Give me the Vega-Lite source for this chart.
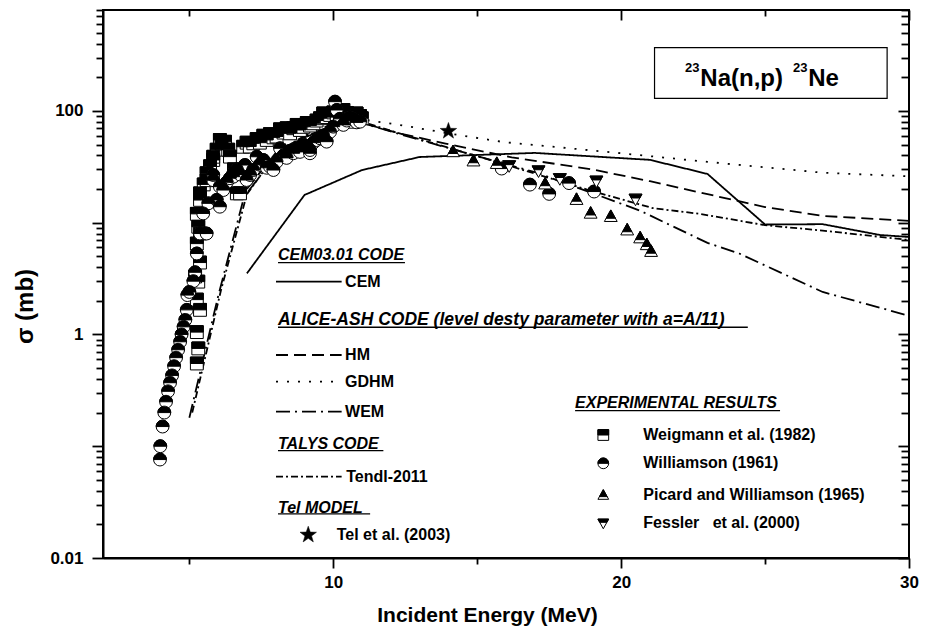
{
  "$schema": "https://vega.github.io/schema/vega-lite/v6.json",
  "width": 806,
  "height": 548,
  "autosize": "none",
  "padding": {"left": 103, "top": 10, "right": 24, "bottom": 69},
  "background": "white",
  "config": {
    "view": {"stroke": "black", "strokeWidth": 2},
    "axis": {"domainColor": "black", "domainWidth": 2, "tickColor": "black", "tickWidth": 1.8, "labelFont": "Liberation Sans", "labelFontWeight": "bold", "labelFontSize": 17, "labelColor": "black", "titleFont": "Liberation Sans", "titleFontWeight": "bold", "titleColor": "black", "grid": false}
  },
  "datasets": {
    "models": [
      {"series": "CEM", "E": 7, "s": 3.52}, {"series": "CEM", "E": 9, "s": 17.7}, {"series": "CEM", "E": 11, "s": 29.6}, {"series": "CEM", "E": 13, "s": 38.7}, {"series": "CEM", "E": 17, "s": 42.1}, {"series": "CEM", "E": 21, "s": 36.5}, {"series": "CEM", "E": 23, "s": 27.3}, {"series": "CEM", "E": 25, "s": 9.63}, {"series": "CEM", "E": 27, "s": 9.7}, {"series": "CEM", "E": 29, "s": 7.76}, {"series": "CEM", "E": 30, "s": 7.45},
      {"series": "HM", "E": 7, "s": 20}, {"series": "HM", "E": 8, "s": 42}, {"series": "HM", "E": 9, "s": 60}, {"series": "HM", "E": 10, "s": 74}, {"series": "HM", "E": 11, "s": 78}, {"series": "HM", "E": 12.3, "s": 63}, {"series": "HM", "E": 13.9, "s": 51}, {"series": "HM", "E": 16.2, "s": 38.4}, {"series": "HM", "E": 19, "s": 30}, {"series": "HM", "E": 21, "s": 23.5}, {"series": "HM", "E": 23, "s": 18}, {"series": "HM", "E": 25, "s": 13.8}, {"series": "HM", "E": 27, "s": 11.5}, {"series": "HM", "E": 30, "s": 10.4},
      {"series": "GDHM", "E": 7, "s": 22}, {"series": "GDHM", "E": 8, "s": 45}, {"series": "GDHM", "E": 9, "s": 62}, {"series": "GDHM", "E": 10, "s": 76}, {"series": "GDHM", "E": 11, "s": 84}, {"series": "GDHM", "E": 12.3, "s": 75}, {"series": "GDHM", "E": 14, "s": 63}, {"series": "GDHM", "E": 15.9, "s": 52.7}, {"series": "GDHM", "E": 19.4, "s": 43.3}, {"series": "GDHM", "E": 23, "s": 35}, {"series": "GDHM", "E": 27, "s": 28}, {"series": "GDHM", "E": 30, "s": 26},
      {"series": "WEM", "E": 5.0, "s": 0.18}, {"series": "WEM", "E": 6.0, "s": 2.2}, {"series": "WEM", "E": 6.9, "s": 17}, {"series": "WEM", "E": 8, "s": 40}, {"series": "WEM", "E": 9, "s": 58}, {"series": "WEM", "E": 10, "s": 72}, {"series": "WEM", "E": 11, "s": 78}, {"series": "WEM", "E": 12.3, "s": 62}, {"series": "WEM", "E": 14.1, "s": 45.8}, {"series": "WEM", "E": 17.07, "s": 28}, {"series": "WEM", "E": 20.63, "s": 12.9}, {"series": "WEM", "E": 23, "s": 6.6}, {"series": "WEM", "E": 24.1, "s": 5.3}, {"series": "WEM", "E": 27, "s": 2.4}, {"series": "WEM", "E": 30, "s": 1.47},
      {"series": "Tendl", "E": 5.1, "s": 0.2}, {"series": "Tendl", "E": 6.1, "s": 2.5}, {"series": "Tendl", "E": 7.0, "s": 18}, {"series": "Tendl", "E": 8, "s": 41}, {"series": "Tendl", "E": 9, "s": 59}, {"series": "Tendl", "E": 10, "s": 73}, {"series": "Tendl", "E": 11, "s": 80}, {"series": "Tendl", "E": 12.3, "s": 63}, {"series": "Tendl", "E": 14.1, "s": 46}, {"series": "Tendl", "E": 16, "s": 33}, {"series": "Tendl", "E": 18.84, "s": 19.7}, {"series": "Tendl", "E": 21.1, "s": 13.5}, {"series": "Tendl", "E": 22.74, "s": 12.0}, {"series": "Tendl", "E": 25, "s": 9.5}, {"series": "Tendl", "E": 27, "s": 8.5}, {"series": "Tendl", "E": 30, "s": 7.0}
    ],
    "legendLines": [
      {"series": "CEM", "E": 8.01, "E2": 10.29, "s": 2.97},
      {"series": "HM", "E": 8.01, "E2": 10.29, "s": 0.655},
      {"series": "GDHM", "E": 8.01, "E2": 10.29, "s": 0.378},
      {"series": "WEM", "E": 8.01, "E2": 10.29, "s": 0.204},
      {"series": "Tendl", "E": 8.01, "E2": 10.29, "s": 0.0534}
    ],
    "underlines": [
      {"E": 8.08, "E2": 12.49, "s": 4.39},
      {"E": 8.08, "E2": 24.4, "s": 1.16},
      {"E": 8.08, "E2": 11.74, "s": 0.0912},
      {"E": 8.08, "E2": 11.28, "s": 0.0248},
      {"E": 18.4, "E2": 25.52, "s": 0.208}
    ],
    "headings": [
      {"E": 8.08, "s": 5.09, "label": "CEM03.01 CODE"},
      {"E": 8.08, "s": 0.1047, "label": "TALYS CODE"},
      {"E": 8.08, "s": 0.0279, "label": "Tel MODEL"},
      {"E": 18.4, "s": 0.242, "label": "EXPERIMENTAL RESULTS"}
    ],
    "headingWide": [
      {"E": 8.08, "s": 1.347, "label": "ALICE-ASH CODE (level desty parameter with a=A/11)"}
    ],
    "items": [
      {"E": 10.41, "s": 2.97, "label": "CEM"},
      {"E": 10.41, "s": 0.655, "label": "HM"},
      {"E": 10.41, "s": 0.378, "label": "GDHM"},
      {"E": 10.41, "s": 0.204, "label": "WEM"},
      {"E": 10.45, "s": 0.0534, "label": "Tendl-2011"},
      {"E": 10.12, "s": 0.0161, "label": "Tel et al. (2003)"},
      {"E": 20.77, "s": 0.126, "label": "Weigmann et al. (1982)"},
      {"E": 20.77, "s": 0.0703, "label": "Williamson (1961)"},
      {"E": 20.77, "s": 0.0366, "label": "Picard and Williamson (1965)"},
      {"E": 20.77, "s": 0.0204, "label": "Fessler\u00a0\u00a0\u00a0et al. (2000)"}
    ],
    "box": [{"E": 21.16, "E2": 29.24, "s": 368, "s2": 129.7}],
    "titleMain": [{"E": 22.75, "s": 167, "label": "Na(n,p)"}, {"E": 26.5, "s": 167, "label": "Ne"}],
    "titleSup": [{"E": 22.22, "s": 224, "label": "23"}, {"E": 25.97, "s": 224, "label": "23"}],
    "tel": [{"role": "data", "E": 14.0, "s": 66}, {"role": "legend", "E": 9.13, "s": 0.0161}],
    "exp": [
      {"series": "Weigmann", "role": "legend", "E": 19.38, "s": 0.126},
      {"series": "Williamson", "role": "legend", "E": 19.38, "s": 0.0703},
      {"series": "Picard", "role": "legend", "E": 19.38, "s": 0.0366},
      {"series": "Fessler", "role": "legend", "E": 19.38, "s": 0.0204},
      {"series": "Weigmann", "role": "data", "E": 5.26, "s": 0.55}, {"series": "Weigmann", "role": "data", "E": 5.31, "s": 0.75}, {"series": "Weigmann", "role": "data", "E": 5.26, "s": 1.05}, {"series": "Weigmann", "role": "data", "E": 5.37, "s": 1.66}, {"series": "Weigmann", "role": "data", "E": 5.26, "s": 2.05}, {"series": "Weigmann", "role": "data", "E": 5.31, "s": 2.97}, {"series": "Weigmann", "role": "data", "E": 5.2, "s": 3.3}, {"series": "Weigmann", "role": "data", "E": 5.37, "s": 4.4}, {"series": "Weigmann", "role": "data", "E": 5.26, "s": 6.5}, {"series": "Weigmann", "role": "data", "E": 5.37, "s": 8.0}, {"series": "Weigmann", "role": "data", "E": 5.31, "s": 9.2}, {"series": "Weigmann", "role": "data", "E": 5.26, "s": 12}, {"series": "Weigmann", "role": "data", "E": 5.37, "s": 16}, {"series": "Weigmann", "role": "data", "E": 5.37, "s": 18.3}, {"series": "Weigmann", "role": "data", "E": 5.5, "s": 22}, {"series": "Weigmann", "role": "data", "E": 5.6, "s": 24}, {"series": "Weigmann", "role": "data", "E": 5.6, "s": 27.7}, {"series": "Weigmann", "role": "data", "E": 5.72, "s": 32}, {"series": "Weigmann", "role": "data", "E": 5.83, "s": 36.4}, {"series": "Weigmann", "role": "data", "E": 5.83, "s": 38.9}, {"series": "Weigmann", "role": "data", "E": 5.95, "s": 45}, {"series": "Weigmann", "role": "data", "E": 6.06, "s": 55}, {"series": "Weigmann", "role": "data", "E": 6.12, "s": 51}, {"series": "Weigmann", "role": "data", "E": 6.24, "s": 53}, {"series": "Weigmann", "role": "data", "E": 6.35, "s": 45}, {"series": "Weigmann", "role": "data", "E": 6.41, "s": 39}, {"series": "Weigmann", "role": "data", "E": 6.55, "s": 30}, {"series": "Weigmann", "role": "data", "E": 6.65, "s": 18.3}, {"series": "Weigmann", "role": "data", "E": 6.76, "s": 18.3}, {"series": "Weigmann", "role": "data", "E": 6.87, "s": 47.8}, {"series": "Weigmann", "role": "data", "E": 6.99, "s": 52}, {"series": "Weigmann", "role": "data", "E": 7.1, "s": 48}, {"series": "Weigmann", "role": "data", "E": 7.22, "s": 51.3}, {"series": "Weigmann", "role": "data", "E": 7.34, "s": 56}, {"series": "Weigmann", "role": "data", "E": 7.45, "s": 52}, {"series": "Weigmann", "role": "data", "E": 7.57, "s": 60}, {"series": "Weigmann", "role": "data", "E": 7.69, "s": 55}, {"series": "Weigmann", "role": "data", "E": 7.8, "s": 62}, {"series": "Weigmann", "role": "data", "E": 7.92, "s": 58}, {"series": "Weigmann", "role": "data", "E": 8.03, "s": 59}, {"series": "Weigmann", "role": "data", "E": 8.15, "s": 68.5}, {"series": "Weigmann", "role": "data", "E": 8.27, "s": 64}, {"series": "Weigmann", "role": "data", "E": 8.38, "s": 70}, {"series": "Weigmann", "role": "data", "E": 8.5, "s": 63}, {"series": "Weigmann", "role": "data", "E": 8.61, "s": 70}, {"series": "Weigmann", "role": "data", "E": 8.73, "s": 75}, {"series": "Weigmann", "role": "data", "E": 8.84, "s": 67.5}, {"series": "Weigmann", "role": "data", "E": 8.96, "s": 72}, {"series": "Weigmann", "role": "data", "E": 9.08, "s": 78}, {"series": "Weigmann", "role": "data", "E": 9.19, "s": 74}, {"series": "Weigmann", "role": "data", "E": 9.31, "s": 77.5}, {"series": "Weigmann", "role": "data", "E": 9.42, "s": 82}, {"series": "Weigmann", "role": "data", "E": 9.54, "s": 86}, {"series": "Weigmann", "role": "data", "E": 9.65, "s": 95}, {"series": "Weigmann", "role": "data", "E": 9.77, "s": 88}, {"series": "Weigmann", "role": "data", "E": 9.89, "s": 92}, {"series": "Weigmann", "role": "data", "E": 10.0, "s": 97}, {"series": "Weigmann", "role": "data", "E": 10.12, "s": 93}, {"series": "Weigmann", "role": "data", "E": 10.23, "s": 99}, {"series": "Weigmann", "role": "data", "E": 10.35, "s": 102}, {"series": "Weigmann", "role": "data", "E": 10.47, "s": 96}, {"series": "Weigmann", "role": "data", "E": 10.58, "s": 94}, {"series": "Weigmann", "role": "data", "E": 10.69, "s": 80}, {"series": "Weigmann", "role": "data", "E": 10.81, "s": 95}, {"series": "Weigmann", "role": "data", "E": 10.93, "s": 90}, {"series": "Weigmann", "role": "data", "E": 10.99, "s": 86},
      {"series": "Williamson", "role": "data", "E": 3.98, "s": 0.076}, {"series": "Williamson", "role": "data", "E": 3.99, "s": 0.1}, {"series": "Williamson", "role": "data", "E": 4.07, "s": 0.15}, {"series": "Williamson", "role": "data", "E": 4.13, "s": 0.2}, {"series": "Williamson", "role": "data", "E": 4.19, "s": 0.25}, {"series": "Williamson", "role": "data", "E": 4.26, "s": 0.31}, {"series": "Williamson", "role": "data", "E": 4.33, "s": 0.37}, {"series": "Williamson", "role": "data", "E": 4.4, "s": 0.43}, {"series": "Williamson", "role": "data", "E": 4.47, "s": 0.52}, {"series": "Williamson", "role": "data", "E": 4.54, "s": 0.62}, {"series": "Williamson", "role": "data", "E": 4.61, "s": 0.73}, {"series": "Williamson", "role": "data", "E": 4.68, "s": 0.86}, {"series": "Williamson", "role": "data", "E": 4.73, "s": 1.0}, {"series": "Williamson", "role": "data", "E": 4.8, "s": 1.17}, {"series": "Williamson", "role": "data", "E": 4.86, "s": 1.35}, {"series": "Williamson", "role": "data", "E": 4.91, "s": 1.66}, {"series": "Williamson", "role": "data", "E": 4.93, "s": 2.25}, {"series": "Williamson", "role": "data", "E": 5.0, "s": 2.4}, {"series": "Williamson", "role": "data", "E": 5.14, "s": 3.0}, {"series": "Williamson", "role": "data", "E": 5.2, "s": 3.6}, {"series": "Williamson", "role": "data", "E": 5.26, "s": 5.3}, {"series": "Williamson", "role": "data", "E": 5.37, "s": 8.0}, {"series": "Williamson", "role": "data", "E": 5.48, "s": 12.1}, {"series": "Williamson", "role": "data", "E": 5.6, "s": 8.0}, {"series": "Williamson", "role": "data", "E": 5.66, "s": 14.9}, {"series": "Williamson", "role": "data", "E": 5.83, "s": 24}, {"series": "Williamson", "role": "data", "E": 5.83, "s": 26.7}, {"series": "Williamson", "role": "data", "E": 5.95, "s": 16}, {"series": "Williamson", "role": "data", "E": 6.06, "s": 21}, {"series": "Williamson", "role": "data", "E": 6.06, "s": 13.9}, {"series": "Williamson", "role": "data", "E": 6.18, "s": 19.6}, {"series": "Williamson", "role": "data", "E": 6.3, "s": 23}, {"series": "Williamson", "role": "data", "E": 6.41, "s": 25}, {"series": "Williamson", "role": "data", "E": 6.53, "s": 27.7}, {"series": "Williamson", "role": "data", "E": 6.53, "s": 25.8}, {"series": "Williamson", "role": "data", "E": 6.65, "s": 30}, {"series": "Williamson", "role": "data", "E": 6.76, "s": 27}, {"series": "Williamson", "role": "data", "E": 6.93, "s": 32.8}, {"series": "Williamson", "role": "data", "E": 6.99, "s": 24.1}, {"series": "Williamson", "role": "data", "E": 7.11, "s": 26.7}, {"series": "Williamson", "role": "data", "E": 7.22, "s": 29.6}, {"series": "Williamson", "role": "data", "E": 7.34, "s": 38.9}, {"series": "Williamson", "role": "data", "E": 7.45, "s": 33}, {"series": "Williamson", "role": "data", "E": 7.57, "s": 36.4}, {"series": "Williamson", "role": "data", "E": 7.69, "s": 31}, {"series": "Williamson", "role": "data", "E": 7.8, "s": 31.7}, {"series": "Williamson", "role": "data", "E": 7.92, "s": 29.6}, {"series": "Williamson", "role": "data", "E": 8.03, "s": 35}, {"series": "Williamson", "role": "data", "E": 8.15, "s": 46.3}, {"series": "Williamson", "role": "data", "E": 8.27, "s": 40}, {"series": "Williamson", "role": "data", "E": 8.38, "s": 38}, {"series": "Williamson", "role": "data", "E": 8.5, "s": 44}, {"series": "Williamson", "role": "data", "E": 8.61, "s": 41.8}, {"series": "Williamson", "role": "data", "E": 8.73, "s": 47}, {"series": "Williamson", "role": "data", "E": 8.84, "s": 43}, {"series": "Williamson", "role": "data", "E": 8.96, "s": 50}, {"series": "Williamson", "role": "data", "E": 9.08, "s": 48}, {"series": "Williamson", "role": "data", "E": 9.19, "s": 41.8}, {"series": "Williamson", "role": "data", "E": 9.19, "s": 44.7}, {"series": "Williamson", "role": "data", "E": 9.31, "s": 52}, {"series": "Williamson", "role": "data", "E": 9.42, "s": 54.9}, {"series": "Williamson", "role": "data", "E": 9.54, "s": 56.9}, {"series": "Williamson", "role": "data", "E": 9.65, "s": 60}, {"series": "Williamson", "role": "data", "E": 9.77, "s": 53.1}, {"series": "Williamson", "role": "data", "E": 9.89, "s": 65}, {"series": "Williamson", "role": "data", "E": 10.0, "s": 72.3}, {"series": "Williamson", "role": "data", "E": 10.06, "s": 121}, {"series": "Williamson", "role": "data", "E": 10.12, "s": 102}, {"series": "Williamson", "role": "data", "E": 10.23, "s": 85}, {"series": "Williamson", "role": "data", "E": 10.35, "s": 75}, {"series": "Williamson", "role": "data", "E": 10.47, "s": 82}, {"series": "Williamson", "role": "data", "E": 10.58, "s": 88}, {"series": "Williamson", "role": "data", "E": 10.7, "s": 84}, {"series": "Williamson", "role": "data", "E": 10.81, "s": 79}, {"series": "Williamson", "role": "data", "E": 10.93, "s": 80.1},
      {"series": "Williamson", "role": "data", "E": 15.85, "s": 30.5}, {"series": "Williamson", "role": "data", "E": 16.83, "s": 21.9}, {"series": "Williamson", "role": "data", "E": 17.5, "s": 18.1}, {"series": "Williamson", "role": "data", "E": 18.19, "s": 22.6}, {"series": "Williamson", "role": "data", "E": 19.06, "s": 19.0},
      {"series": "Picard", "role": "data", "E": 14.16, "s": 43.3}, {"series": "Picard", "role": "data", "E": 14.87, "s": 35.8}, {"series": "Picard", "role": "data", "E": 15.68, "s": 34.0}, {"series": "Picard", "role": "data", "E": 17.36, "s": 22.3}, {"series": "Picard", "role": "data", "E": 18.45, "s": 16.2}, {"series": "Picard", "role": "data", "E": 18.94, "s": 12.2}, {"series": "Picard", "role": "data", "E": 19.64, "s": 11.4}, {"series": "Picard", "role": "data", "E": 20.21, "s": 8.64}, {"series": "Picard", "role": "data", "E": 20.66, "s": 7.34}, {"series": "Picard", "role": "data", "E": 20.89, "s": 6.38}, {"series": "Picard", "role": "data", "E": 21.04, "s": 5.55},
      {"series": "Fessler", "role": "data", "E": 16.11, "s": 32.2}, {"series": "Fessler", "role": "data", "E": 17.13, "s": 29.0}, {"series": "Fessler", "role": "data", "E": 17.87, "s": 24.7}, {"series": "Fessler", "role": "data", "E": 19.14, "s": 23.5}, {"series": "Fessler", "role": "data", "E": 20.5, "s": 16.2}
    ]
  },
  "resolve": {"axis": {"x": "independent", "y": "independent"}},
  "layer": [
    {
      "data": {"name": "models"},
      "mark": {"type": "line", "color": "black", "strokeWidth": 1.8},
      "encoding": {
        "x": {"field": "E", "type": "quantitative", "scale": {"domain": [2, 30], "nice": false, "zero": false},
          "axis": {"orient": "bottom", "values": [5, 10, 15, 20, 25, 30], "labelExpr": "datum.value % 10 === 0 ? datum.label : ''", "labelFlush": false, "tickSize": {"condition": {"test": "datum.value % 10 === 0", "value": 10}, "value": 6}, "labelPadding": 6, "title": "Incident Energy (MeV)", "titleFontSize": 21, "titleX": 384, "titleY": 57, "titleBaseline": "middle", "titleAlign": "center"}},
        "y": {"field": "s", "type": "quantitative", "scale": {"type": "log", "domain": [0.01, 800], "nice": false},
          "axis": {"orient": "left", "values": [0.01, 0.02, 0.03, 0.04, 0.05, 0.06, 0.07, 0.08, 0.09, 0.1, 0.2, 0.3, 0.4, 0.5, 0.6, 0.7, 0.8, 0.9, 1, 2, 3, 4, 5, 6, 7, 8, 9, 10, 20, 30, 40, 50, 60, 70, 80, 90, 100, 200, 300, 400, 500, 600, 700, 800], "format": "~g", "labelExpr": "datum.value === 0.01 || datum.value === 1 || datum.value === 100 ? datum.label : ''", "tickSize": {"condition": {"test": "indexof([0.01, 0.1, 1, 10, 100], datum.value) >= 0", "value": 11}, "value": 7}, "labelPadding": 9, "title": "σ (mb)", "titleFontSize": 24, "titleX": -78, "titleY": 296, "titleBaseline": "middle", "titleAlign": "center", "titleAngle": 270}},
        "strokeDash": {"field": "series", "type": "nominal", "scale": {"domain": ["CEM", "HM", "GDHM", "WEM", "Tendl"], "range": [[1, 0], [12, 6], [2, 9], [14, 5, 2, 5], [7, 3, 2, 3]]}, "legend": null}
      }
    },
    {
      "data": {"name": "box"},
      "mark": {"type": "rect", "fill": "white", "stroke": "black", "strokeWidth": 1.2},
      "encoding": {
        "x": {"field": "E", "type": "quantitative", "scale": {"domain": [2, 30], "nice": false, "zero": false},
          "axis": {"orient": "top", "values": [10, 20, 30], "labels": false, "title": null, "domain": false, "offset": -10, "tickSize": 10}},
        "x2": {"field": "E2"},
        "y": {"field": "s", "type": "quantitative", "scale": {"type": "log", "domain": [0.01, 800], "nice": false},
          "axis": {"orient": "right", "values": [0.01, 0.1, 1, 10, 100], "labels": false, "title": null, "domain": false, "offset": -11, "tickSize": 11}},
        "y2": {"field": "s2"}
      }
    },
    {
      "data": {"name": "titleMain"},
      "mark": {"type": "text", "font": "Liberation Sans", "fontWeight": "bold", "fontSize": 24, "align": "left", "baseline": "alphabetic", "color": "black"},
      "encoding": {
        "x": {"field": "E", "type": "quantitative", "scale": {"domain": [2, 30], "nice": false, "zero": false},
          "axis": {"orient": "top", "values": [5, 15, 25], "labels": false, "title": null, "domain": false, "offset": -6, "tickSize": 6}},
        "y": {"field": "s", "type": "quantitative", "scale": {"type": "log", "domain": [0.01, 800], "nice": false},
          "axis": {"orient": "right", "values": [0.02, 0.03, 0.04, 0.05, 0.06, 0.07, 0.08, 0.09, 0.2, 0.3, 0.4, 0.5, 0.6, 0.7, 0.8, 0.9, 2, 3, 4, 5, 6, 7, 8, 9, 20, 30, 40, 50, 60, 70, 80, 90, 200, 300, 400, 500, 600, 700, 800], "labels": false, "title": null, "domain": false, "offset": -8, "tickSize": 8}},
        "text": {"field": "label"}
      }
    },
    {
      "data": {"name": "titleSup"},
      "mark": {"type": "text", "font": "Liberation Sans", "fontWeight": "bold", "fontSize": 13, "align": "left", "baseline": "alphabetic", "color": "black"},
      "encoding": {
        "x": {"field": "E", "type": "quantitative", "scale": {"domain": [2, 30], "nice": false, "zero": false}, "axis": null},
        "y": {"field": "s", "type": "quantitative", "scale": {"type": "log", "domain": [0.01, 800], "nice": false}, "axis": null},
        "text": {"field": "label"}
      }
    },
    {
      "data": {"name": "legendLines"},
      "mark": {"type": "rule", "color": "black", "strokeWidth": 1.8},
      "encoding": {
        "x": {"field": "E", "type": "quantitative", "scale": {"domain": [2, 30], "nice": false, "zero": false}, "axis": null},
        "x2": {"field": "E2"},
        "y": {"field": "s", "type": "quantitative", "scale": {"type": "log", "domain": [0.01, 800], "nice": false}, "axis": null},
        "strokeDash": {"field": "series", "type": "nominal", "legend": null}
      }
    },
    {
      "data": {"name": "underlines"},
      "mark": {"type": "rule", "color": "black", "strokeWidth": 1.3},
      "encoding": {
        "x": {"field": "E", "type": "quantitative", "scale": {"domain": [2, 30], "nice": false, "zero": false}, "axis": null},
        "x2": {"field": "E2"},
        "y": {"field": "s", "type": "quantitative", "scale": {"type": "log", "domain": [0.01, 800], "nice": false}, "axis": null}
      }
    },
    {
      "data": {"name": "headings"},
      "mark": {"type": "text", "font": "Liberation Sans", "fontWeight": "bold", "fontStyle": "italic", "fontSize": 16, "align": "left", "baseline": "middle", "color": "black"},
      "encoding": {
        "x": {"field": "E", "type": "quantitative", "scale": {"domain": [2, 30], "nice": false, "zero": false}, "axis": null},
        "y": {"field": "s", "type": "quantitative", "scale": {"type": "log", "domain": [0.01, 800], "nice": false}, "axis": null},
        "text": {"field": "label"}
      }
    },
    {
      "data": {"name": "headingWide"},
      "mark": {"type": "text", "font": "Liberation Sans", "fontWeight": "bold", "fontStyle": "italic", "fontSize": 17.5, "align": "left", "baseline": "middle", "color": "black"},
      "encoding": {
        "x": {"field": "E", "type": "quantitative", "scale": {"domain": [2, 30], "nice": false, "zero": false}, "axis": null},
        "y": {"field": "s", "type": "quantitative", "scale": {"type": "log", "domain": [0.01, 800], "nice": false}, "axis": null},
        "text": {"field": "label"}
      }
    },
    {
      "data": {"name": "items"},
      "mark": {"type": "text", "font": "Liberation Sans", "fontWeight": "bold", "fontSize": 16, "align": "left", "baseline": "middle", "color": "black"},
      "encoding": {
        "x": {"field": "E", "type": "quantitative", "scale": {"domain": [2, 30], "nice": false, "zero": false}, "axis": null},
        "y": {"field": "s", "type": "quantitative", "scale": {"type": "log", "domain": [0.01, 800], "nice": false}, "axis": null},
        "text": {"field": "label"}
      }
    },
    {
      "data": {"name": "exp"},
      "transform": [{"filter": "datum.series === 'Weigmann'"}],
      "mark": {"type": "point", "shape": "square", "filled": true, "fill": "white", "stroke": "black", "strokeWidth": 1, "opacity": 1},
      "encoding": {
        "x": {"field": "E", "type": "quantitative", "scale": {"domain": [2, 30], "nice": false, "zero": false}, "axis": null},
        "y": {"field": "s", "type": "quantitative", "scale": {"type": "log", "domain": [0.01, 800], "nice": false}, "axis": null},
        "size": {"field": "role", "type": "nominal", "scale": {"domain": ["data", "legend"], "range": [165, 115]}, "legend": null}
      }
    },
    {
      "data": {"name": "exp"},
      "transform": [{"filter": "datum.series === 'Weigmann'"}],
      "mark": {"type": "point", "shape": "M-1,-1L1,-1L1,0L-1,0Z", "filled": true, "fill": "black", "stroke": "black", "strokeWidth": 1, "opacity": 1},
      "encoding": {
        "x": {"field": "E", "type": "quantitative", "scale": {"domain": [2, 30], "nice": false, "zero": false}, "axis": null},
        "y": {"field": "s", "type": "quantitative", "scale": {"type": "log", "domain": [0.01, 800], "nice": false}, "axis": null},
        "size": {"field": "role", "type": "nominal", "legend": null}
      }
    },
    {
      "data": {"name": "exp"},
      "transform": [{"filter": "datum.series === 'Williamson'"}],
      "mark": {"type": "point", "shape": "circle", "filled": true, "fill": "white", "stroke": "black", "strokeWidth": 1, "opacity": 1},
      "encoding": {
        "x": {"field": "E", "type": "quantitative", "scale": {"domain": [2, 30], "nice": false, "zero": false}, "axis": null},
        "y": {"field": "s", "type": "quantitative", "scale": {"type": "log", "domain": [0.01, 800], "nice": false}, "axis": null},
        "size": {"field": "role", "type": "nominal", "legend": null}
      }
    },
    {
      "data": {"name": "exp"},
      "transform": [{"filter": "datum.series === 'Williamson'"}],
      "mark": {"type": "point", "shape": "M-1,0A1,1,0,0,1,1,0Z", "filled": true, "fill": "black", "stroke": "black", "strokeWidth": 1, "opacity": 1},
      "encoding": {
        "x": {"field": "E", "type": "quantitative", "scale": {"domain": [2, 30], "nice": false, "zero": false}, "axis": null},
        "y": {"field": "s", "type": "quantitative", "scale": {"type": "log", "domain": [0.01, 800], "nice": false}, "axis": null},
        "size": {"field": "role", "type": "nominal", "legend": null}
      }
    },
    {
      "data": {"name": "exp"},
      "transform": [{"filter": "datum.series === 'Picard'"}],
      "mark": {"type": "point", "shape": "M0,-1L1,0.8L-1,0.8Z", "filled": true, "fill": "white", "stroke": "black", "strokeWidth": 1, "opacity": 1},
      "encoding": {
        "x": {"field": "E", "type": "quantitative", "scale": {"domain": [2, 30], "nice": false, "zero": false}, "axis": null},
        "y": {"field": "s", "type": "quantitative", "scale": {"type": "log", "domain": [0.01, 800], "nice": false}, "axis": null},
        "size": {"field": "role", "type": "nominal", "legend": null}
      }
    },
    {
      "data": {"name": "exp"},
      "transform": [{"filter": "datum.series === 'Picard'"}],
      "mark": {"type": "point", "shape": "M0,-1L0.72,0.3L-0.72,0.3Z", "filled": true, "fill": "black", "stroke": "black", "strokeWidth": 1, "opacity": 1},
      "encoding": {
        "x": {"field": "E", "type": "quantitative", "scale": {"domain": [2, 30], "nice": false, "zero": false}, "axis": null},
        "y": {"field": "s", "type": "quantitative", "scale": {"type": "log", "domain": [0.01, 800], "nice": false}, "axis": null},
        "size": {"field": "role", "type": "nominal", "legend": null}
      }
    },
    {
      "data": {"name": "exp"},
      "transform": [{"filter": "datum.series === 'Fessler'"}],
      "mark": {"type": "point", "shape": "M-1,-0.8L1,-0.8L0,1Z", "filled": true, "fill": "white", "stroke": "black", "strokeWidth": 1, "opacity": 1},
      "encoding": {
        "x": {"field": "E", "type": "quantitative", "scale": {"domain": [2, 30], "nice": false, "zero": false}, "axis": null},
        "y": {"field": "s", "type": "quantitative", "scale": {"type": "log", "domain": [0.01, 800], "nice": false}, "axis": null},
        "size": {"field": "role", "type": "nominal", "legend": null}
      }
    },
    {
      "data": {"name": "exp"},
      "transform": [{"filter": "datum.series === 'Fessler'"}],
      "mark": {"type": "point", "shape": "M-1,-0.8L1,-0.8L0.667,-0.2L-0.667,-0.2Z", "filled": true, "fill": "black", "stroke": "black", "strokeWidth": 1, "opacity": 1},
      "encoding": {
        "x": {"field": "E", "type": "quantitative", "scale": {"domain": [2, 30], "nice": false, "zero": false}, "axis": null},
        "y": {"field": "s", "type": "quantitative", "scale": {"type": "log", "domain": [0.01, 800], "nice": false}, "axis": null},
        "size": {"field": "role", "type": "nominal", "legend": null}
      }
    },
    {
      "data": {"name": "tel"},
      "mark": {"type": "point", "shape": "M0,-1L0.235,-0.324L0.951,-0.309L0.38,0.124L0.588,0.809L0,0.4L-0.588,0.809L-0.38,0.124L-0.951,-0.309L-0.235,-0.324Z", "filled": true, "fill": "black", "stroke": "black", "strokeWidth": 0.5, "opacity": 1, "size": 300},
      "encoding": {
        "x": {"field": "E", "type": "quantitative", "scale": {"domain": [2, 30], "nice": false, "zero": false}, "axis": null},
        "y": {"field": "s", "type": "quantitative", "scale": {"type": "log", "domain": [0.01, 800], "nice": false}, "axis": null}
      }
    }
  ]
}
